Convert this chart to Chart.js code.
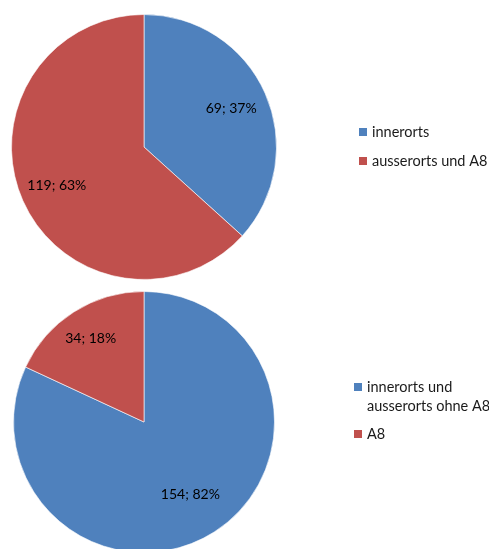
<!DOCTYPE html>
<html>
<head>
<meta charset="utf-8">
<script src="https://cdn.jsdelivr.net/npm/chart.js@4"></script>
<style>
  html, body { margin: 0; padding: 0; background: #fff; overflow: hidden; }
  #wrap { position: relative; width: 489px; height: 549px; overflow: hidden; }
  .box { position: absolute; left: 0; width: 489px; }
</style>
</head>
<body>
<div id="wrap">
  <div class="box" style="top:0;height:282px"><canvas id="pie1" width="489" height="282"></canvas></div>
  <div class="box" style="top:280px;height:290px"><canvas id="pie2" width="489" height="290"></canvas></div>
</div>
<script>
// top chart
var labels1 = ['innerorts', 'ausserorts und A8'];
var values1 = [69, 119];
// bottom chart
var labels2 = [['innerorts und', 'ausserorts ohne A8'], 'A8'];
var values2 = [154, 34];

var colors = ['#4F81BD', '#C0504D'];
var FONT = 'Lato, "Liberation Sans", sans-serif';

// "value; pct%" inside each slice, Excel style
var sliceLabels = {
  id: 'sliceLabels',
  afterDatasetsDraw(chart, args, opts) {
    var ctx = chart.ctx;
    var data = chart.data.datasets[0].data;
    var total = data.reduce((a, b) => a + b, 0);
    chart.getDatasetMeta(0).data.forEach(function(arc, i) {
      var mid = (arc.startAngle + arc.endAngle) / 2;
      var r = arc.outerRadius * opts.dist[i];
      var x = arc.x + Math.cos(mid) * r;
      var y = arc.y + Math.sin(mid) * r;
      ctx.save();
      ctx.font = '14px ' + FONT;
      ctx.fillStyle = '#000';
      ctx.textAlign = 'center';
      ctx.textBaseline = 'middle';
      ctx.fillText(data[i] + '; ' + Math.round(data[i] / total * 100) + '%', x, y);
      ctx.restore();
    });
  }
};

// legend on the right, drawn by hand so multi-line entries wrap like the original
var sideLegend = {
  id: 'sideLegend',
  afterDraw(chart, args, opts) {
    var ctx = chart.ctx;
    var y = opts.top;
    chart.data.labels.forEach(function(lab, i) {
      var lines = Array.isArray(lab) ? lab : [lab];
      ctx.save();
      ctx.fillStyle = chart.data.datasets[0].backgroundColor[i];
      ctx.fillRect(opts.left, y - 4, 8, 8);
      ctx.font = '14.5px ' + FONT;
      ctx.fillStyle = '#1a1a1a';
      ctx.textBaseline = 'middle';
      lines.forEach(function(t, j) {
        ctx.fillText(t, opts.left + 13, y + j * opts.lineH);
      });
      ctx.restore();
      y += (lines.length - 1) * opts.lineH + opts.gap;
    });
  }
};

function makePie(id, labels, values, pad, legendPos, dist) {
  return new Chart(document.getElementById(id), {
    type: 'pie',
    data: {
      labels: labels,
      datasets: [{
        data: values,
        backgroundColor: colors,
        borderColor: 'rgba(255,255,255,0.6)',
        borderWidth: 1
      }]
    },
    options: {
      responsive: false,
      animation: false,
      layout: { padding: pad },
      plugins: {
        legend: { display: false },
        tooltip: { enabled: false },
        sliceLabels: { dist: dist },
        sideLegend: legendPos
      }
    },
    plugins: [sliceLabels, sideLegend]
  });
}

makePie('pie1', labels1, values1,
  { left: 11, right: 212, top: 14, bottom: 2 },
  { left: 359, top: 132, lineH: 19, gap: 29 }, [0.72, 0.72]);

makePie('pie2', labels2, values2,
  { left: 13, right: 214, top: 11, bottom: 17 },
  { left: 354, top: 107, lineH: 19, gap: 28 }, [0.66, 0.76]);
</script>
</body>
</html>
